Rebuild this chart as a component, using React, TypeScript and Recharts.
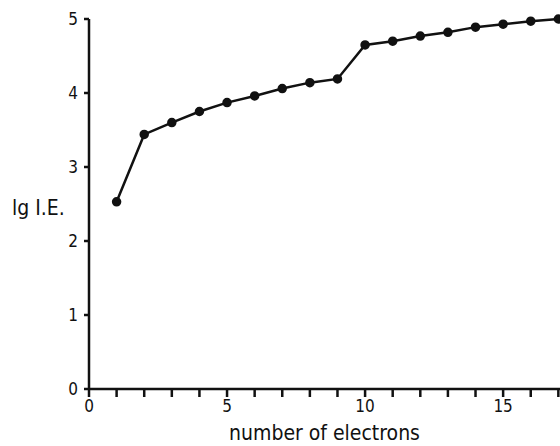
import React from 'react';
import { LineChart, Line, XAxis, YAxis } from 'recharts';

const electrons = [1, 2, 3, 4, 5, 6, 7, 8, 9, 10, 11, 12, 13, 14, 15, 16, 17];
const lgIE = [2.53, 3.44, 3.6, 3.75, 3.87, 3.96, 4.06, 4.14, 4.19, 4.65, 4.7, 4.77, 4.82, 4.89, 4.93, 4.97, 5.0];
const xTicks = [0, 1, 2, 3, 4, 5, 6, 7, 8, 9, 10, 11, 12, 13, 14, 15, 16, 17];
const yTicks = [0, 1, 2, 3, 4, 5];

const data = electrons.map((n, i) => ({ n, v: lgIE[i] }));

const font = '"Liberation Sans Narrow", "DejaVu Sans Condensed", "Liberation Sans", Arial, sans-serif';

export default function App() {
  return (
    <div style={{ position: 'absolute', left: 0, top: 0, width: 560, height: 446, background: '#fff', fontFamily: font }}>
      <LineChart width={560} height={446} data={data} margin={{ top: 19, right: 0, bottom: 0, left: 0 }}>
        <XAxis
          dataKey="n"
          type="number"
          domain={[0, 17.06]}
          ticks={xTicks}
          tickFormatter={(t: number) => (t % 5 === 0 ? String(t) : '')}
          height={57}
          tickSize={8}
          tickMargin={3}
          interval={0}
          allowDataOverflow
          stroke="#111"
          strokeWidth={2.5}
          tick={{ fill: '#111', fontSize: 17, fontFamily: font }}
          label={{ value: 'number of electrons', position: 'insideBottom', offset: 6, fill: '#111', fontSize: 21, fontFamily: font }}
        />
        <YAxis
          type="number"
          domain={[0, 5]}
          ticks={yTicks}
          width={89}
          tickSize={5}
          tickMargin={6}
          stroke="#111"
          strokeWidth={2.5}
          tick={{ fill: '#111', fontSize: 17, fontFamily: font }}
        />
        <text x={12} y={215} fill="#111" fontSize={21} fontFamily={font}>lg I.E.</text>
        <Line
          dataKey="v"
          stroke="#111"
          strokeWidth={2.5}
          dot={{ r: 3.5, fill: '#111', stroke: '#111' }}
          isAnimationActive={false}
        />
      </LineChart>
    </div>
  );
}
